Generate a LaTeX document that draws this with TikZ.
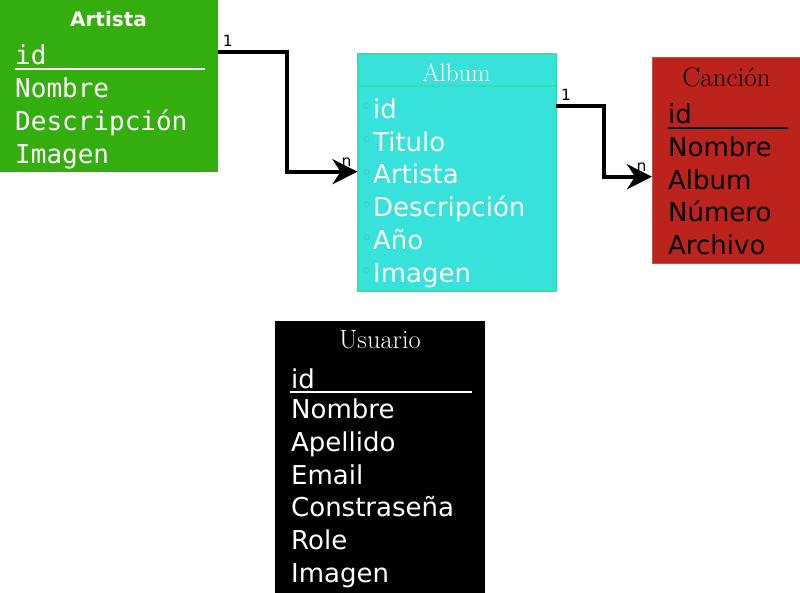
\documentclass[tikz,border=0pt]{standalone}
\usepackage{fontspec}
\usetikzlibrary{arrows.meta}
\newfontfamily\dvs{DejaVu Sans}
\newfontfamily\dvsm{DejaVu Sans Mono}
\definecolor{artgreen}{HTML}{34AD0E}
\definecolor{albfill}{HTML}{36E2D9}
\definecolor{albline}{HTML}{2EE0B2}
\definecolor{albdot}{HTML}{3CD2C2}
\definecolor{canfill}{HTML}{BC231D}
\definecolor{canline}{HTML}{C9504A}
\tikzset{
  ent/.style={rectangle, anchor=north west, inner sep=0pt, outer sep=0pt},
  fld/.style={anchor=base west, inner sep=0pt, font=\dvs\fontsize{26}{26}\selectfont},
  mfld/.style={anchor=base west, inner sep=0pt, font=\dvsm\fontsize{26}{26}\selectfont, text=white},
  hdr/.style={anchor=base, inner sep=0pt, font=\fontsize{26.5}{26.5}\selectfont},
  uline/.style={line width=2pt},
  rel/.style={line width=3.8pt, -{Stealth[length=25pt, width=25pt, inset=8pt]}},
  card/.style={anchor=base, inner sep=0pt, font=\dvs\fontsize{15.5}{15.5}\selectfont},
  dot/.style={draw=albdot, line width=0.8pt, circle, minimum size=5pt, inner sep=0pt}
}
\begin{document}
\begin{tikzpicture}[x=1pt,y=-1pt]
\useasboundingbox[fill=white] (0,0) rectangle (800,592);

% Artista
\node[ent, fill=artgreen, minimum width=217.5pt, minimum height=171.5pt] (artista) at (0,0) {};
\node[anchor=base, inner sep=0pt, text=white, font=\dvs\bfseries\fontsize{20}{20}\selectfont] (arth) at (108.5,26.7) {Artista};
\node[mfld] (artid) at (15,64.3) {id};
\draw[uline, white] (15,68.7) -- (205,68.7);
\node[mfld] (artnom) at (15,97.7) {Nombre};
\node[mfld] (artdes) at (15,130.3) {Descripción};
\node[mfld] (artimg) at (15,163.3) {Imagen};

% Album
\node[ent, fill=albfill, draw=albline, line width=2pt, minimum width=198pt, minimum height=237pt] (album) at (357.5,53.5) {};
\draw[albline, line width=2.5pt] (357.5,86) -- (555.5,86);
\node[hdr, text=white, font=\fontsize{25}{25}\selectfont] (albh) at (456.5,81) {Album};
\foreach \yy/\nm/\tx in {118/albid/id, 151/albtit/Titulo, 183.8/albart/Artista, 216.6/albdes/Descripción, 249.3/albano/Año, 282/albimg/Imagen}{
  \node[dot] at (366.5,\yy-12) {};
  \node[fld, text=white] (\nm) at (373,\yy) {\tx};
}

% Cancion
\node[ent, fill=canfill, draw=canline, line width=0.8pt, minimum width=149pt, minimum height=206pt] (cancion) at (652,57.5) {};
\node[hdr, text=black, font=\fontsize{27}{27}\selectfont] (canh) at (726.5,86) {Canción};
\node[fld, text=black] (canid) at (668,123.3) {id};
\draw[uline, black] (668,127.7) -- (788,127.7);
\node[fld, text=black] (cannom) at (668,156.5) {Nombre};
\node[fld, text=black] (canalb) at (668,189) {Album};
\node[fld, text=black] (cannum) at (668,221.7) {Número};
\node[fld, text=black] (canarc) at (668,254.3) {Archivo};

% Usuario
\node[ent, fill=black, minimum width=210pt, minimum height=272pt] (usuario) at (275,320.7) {};
\node[hdr, text=white] (usuh) at (380,348.3) {Usuario};
\node[fld, text=white] (usuid) at (291,388.3) {id};
\draw[uline, white] (290,391.7) -- (471.5,391.7);
\node[fld, text=white] (usunom) at (291,418.8) {Nombre};
\node[fld, text=white] (usuape) at (291,451.4) {Apellido};
\node[fld, text=white] (usuema) at (291,484) {Email};
\node[fld, text=white] (usucon) at (291,516.7) {Constraseña};
\node[fld, text=white] (usurol) at (291,549.3) {Role};
\node[fld, text=white] (usuimg) at (291,582) {Imagen};

% Relations
\coordinate (r1s) at (artista.north east |- 0,52.3);
\coordinate (r1e) at (album.west |- 0,171.7);
\draw[rel] (r1s) -- (287.3,52.3) |- (r1e);
\node[card] (r1one) at (227.7,46) {1};
\node[card] (r1n) at (346.5,166) {n};

\coordinate (r2s) at (album.east |- 0,106.3);
\coordinate (r2e) at (cancion.west |- 0,176.7);
\draw[rel] (r2s) -- (604,106.3) |- (r2e);
\node[card] (r2one) at (566,100) {1};
\node[card] (r2n) at (641.5,171.5) {n};
\end{tikzpicture}
\end{document}
